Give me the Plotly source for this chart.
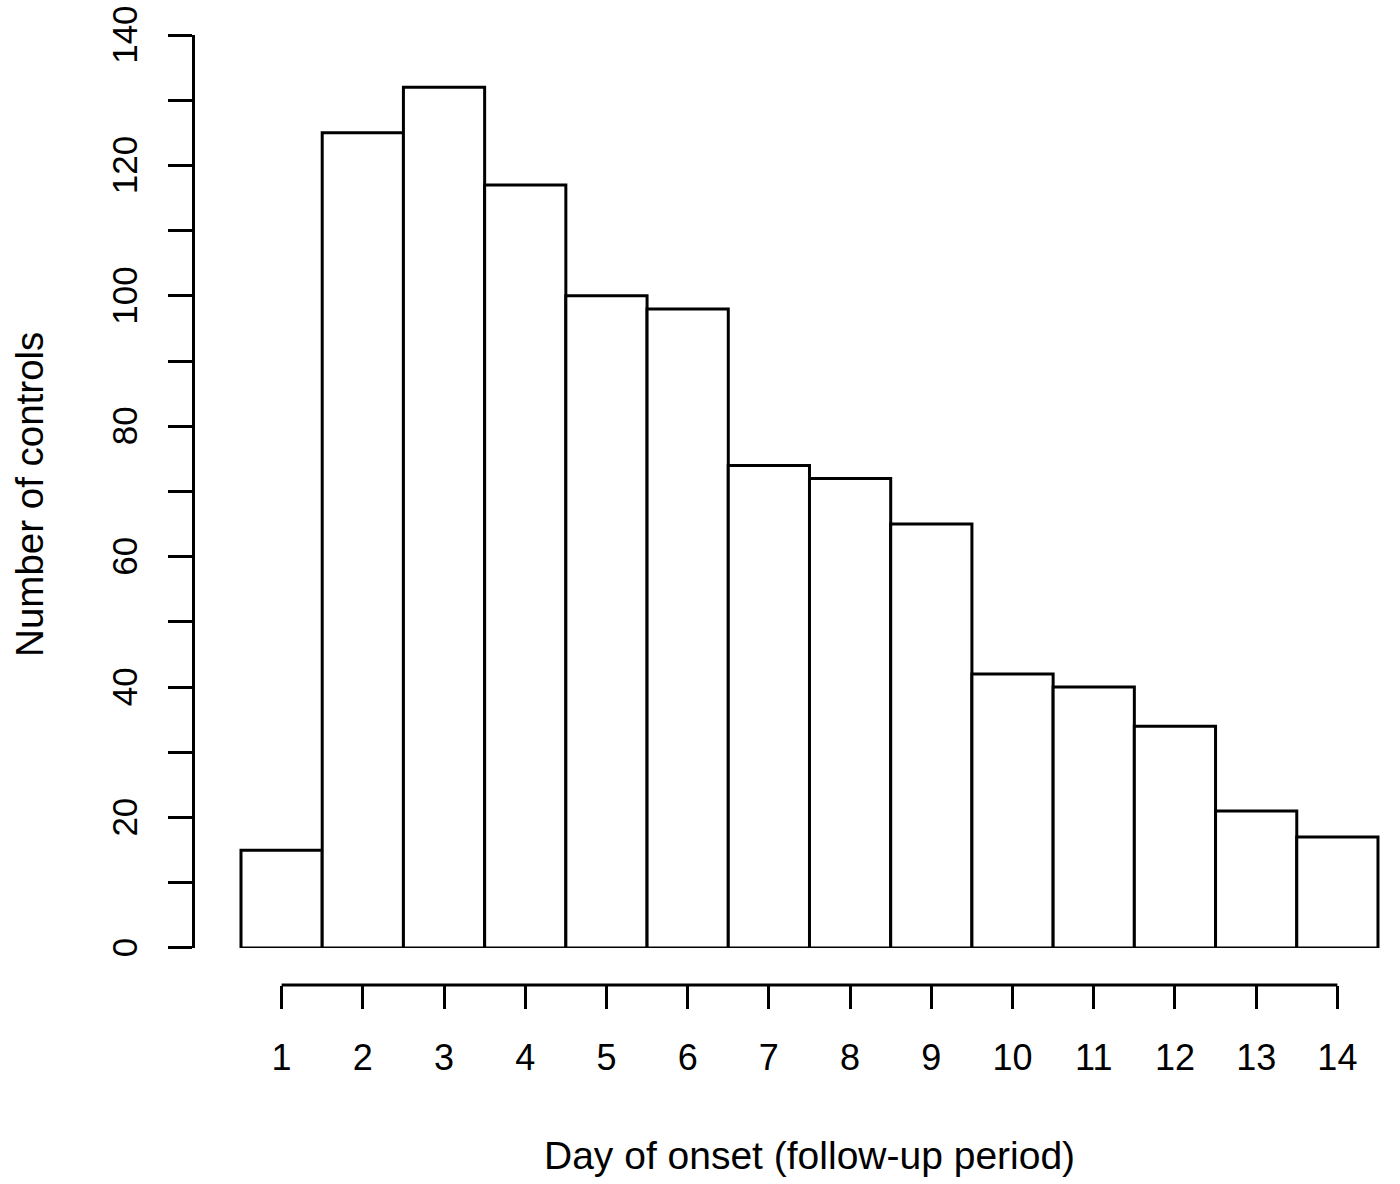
import plotly.graph_objects as go

days = list(range(1, 15))
counts = [15, 125, 132, 117, 100, 98, 74, 72, 65, 42, 40, 34, 21, 17]
y_ticks = list(range(0, 141, 10))
y_ticktext = [str(v) + "\u00a0" if v % 20 == 0 else "" for v in y_ticks]
x_title = "Day of onset (follow-up period)"
y_title = "Number of controls"

FONT = "Liberation Sans, Arial, sans-serif"

fig = go.Figure()
fig.add_trace(go.Bar(
    x=days, y=counts, width=1,
    marker=dict(color="white", line=dict(color="black", width=3)),
    showlegend=False, hoverinfo="x+y",
))

fig.update_layout(
    width=1400, height=1184,
    margin=dict(l=195, r=10, t=35, b=199, autoexpand=False),
    paper_bgcolor="white", plot_bgcolor="white",
    font=dict(family=FONT, color="black", size=35),
    xaxis=dict(
        range=[-0.0664, 14.648], anchor="free", position=0,
        tickvals=days, ticktext=[str(d) for d in days],
        ticks="outside", ticklen=23, tickwidth=3, tickcolor="black",
        showline=False, showgrid=False, zeroline=False, automargin=False,
        tickfont=dict(size=36), ticklabelstandoff=18,
        ticklabeloverflow="allow",
    ),
    yaxis=dict(
        domain=[0.039, 1], range=[0, 140],
        tickvals=y_ticks, ticktext=y_ticktext, tickangle=-90,
        ticks="outside", ticklen=24, tickwidth=3, tickcolor="black",
        showline=True, linewidth=3, linecolor="black",
        showgrid=False, zeroline=False, automargin=False,
        tickfont=dict(size=35), ticklabelstandoff=17,
        ticklabeloverflow="allow",
    ),
    shapes=[dict(
        type="line", xref="x", yref="paper",
        x0=days[0], x1=days[-1], y0=0, y1=0,
        line=dict(color="black", width=3),
    )],
    annotations=[
        dict(text=x_title, xref="paper", yref="paper", x=0.5146, y=-0.179,
             xanchor="center", yanchor="middle", showarrow=False,
             font=dict(size=39, family=FONT, color="black")),
        dict(text=y_title, xref="paper", yref="paper", x=-0.138, y=0.516,
             xanchor="center", yanchor="middle", showarrow=False, textangle=-90,
             font=dict(size=38.5, family=FONT, color="black")),
    ],
)

fig.write_html(
    "out.html",
    config={"displayModeBar": False},
    post_script="document.body.style.margin='0';document.body.style.overflow='hidden';",
)
